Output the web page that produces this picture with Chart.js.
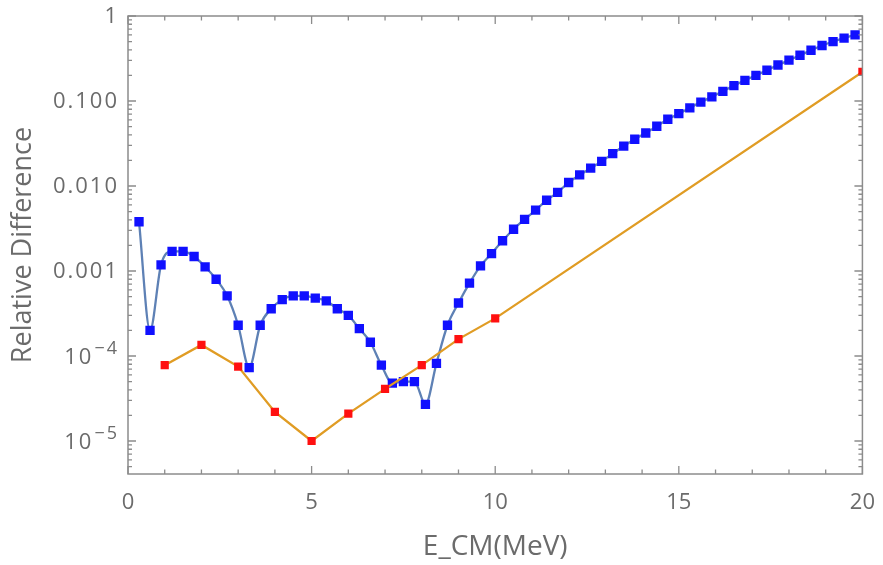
<!DOCTYPE html>
<html>
<head>
<meta charset="utf-8">
<script src="https://cdn.jsdelivr.net/npm/chart.js@4.4.1/dist/chart.umd.min.js"></script>
<style>
	html, body { margin: 0; padding: 0; background: #fff; }
</style>
</head>
<body>
<canvas id="chart" width="883" height="565"></canvas>
<script>
// model curve, sampled every 0.3 MeV
const curveEnergy = [
	0.3, 0.6, 0.9, 1.2, 1.5, 1.8, 2.1, 2.4, 2.7, 3.0,
	3.3, 3.6, 3.9, 4.2, 4.5, 4.8, 5.1, 5.4, 5.7, 6.0,
	6.3, 6.6, 6.9, 7.2, 7.5, 7.8, 8.1, 8.4, 8.7, 9.0,
	9.3, 9.6, 9.9, 10.2, 10.5, 10.8, 11.1, 11.4, 11.7, 12.0,
	12.3, 12.6, 12.9, 13.2, 13.5, 13.8, 14.1, 14.4, 14.7, 15.0,
	15.3, 15.6, 15.9, 16.2, 16.5, 16.8, 17.1, 17.4, 17.7, 18.0,
	18.3, 18.6, 18.9, 19.2, 19.5, 19.8,
];
const curveDiff = [
	3.8e-3, 2.0e-4, 1.18e-3, 1.7e-3, 1.7e-3, 1.48e-3, 1.12e-3, 8.0e-4, 5.1e-4, 2.3e-4,
	7.3e-5, 2.3e-4, 3.6e-4, 4.6e-4, 5.1e-4, 5.1e-4, 4.8e-4, 4.45e-4, 3.6e-4, 3.0e-4,
	2.1e-4, 1.45e-4, 7.8e-5, 4.8e-5, 5.0e-5, 5.0e-5, 2.7e-5, 8.2e-5, 2.3e-4, 4.2e-4,
	7.2e-4, 1.15e-3, 1.6e-3, 2.27e-3, 3.1e-3, 4.05e-3, 5.2e-3, 6.8e-3, 8.4e-3, 1.1e-2,
	1.35e-2, 1.62e-2, 1.95e-2, 2.4e-2, 2.95e-2, 3.55e-2, 4.2e-2, 5.05e-2, 6.1e-2, 7.1e-2,
	8.3e-2, 9.7e-2, 0.112, 0.13, 0.152, 0.175, 0.2, 0.23, 0.265, 0.302,
	0.345, 0.395, 0.45, 0.5, 0.55, 0.6,
];

// reference points, joined by straight segments
const pointEnergy = [1, 2, 3, 4, 5, 6, 7, 8, 9, 10, 20];
const pointDiff = [7.8e-5, 1.35e-4, 7.5e-5, 2.2e-5, 1.0e-5, 2.1e-5, 4.1e-5, 7.8e-5, 1.58e-4, 2.77e-4, 0.22];

// axis ticks
const xTickMarks = [0, 1, 2, 3, 4, 5, 6, 7, 8, 9, 10, 11, 12, 13, 14, 15, 16, 17, 18, 19, 20];
const xMajorTicks = [0, 5, 10, 15, 20];
const yMajorTicks = [1e-5, 1e-4, 1e-3, 1e-2, 1e-1, 1];
const yTickLabels = ['10|−5', '10|−4', '0.001', '0.010', '0.100', '1'];

const fontFamily = '"Open Sans", "Liberation Sans", Arial, sans-serif';
const textColor = '#6b6b6b';
const frameColor = '#8c8c8c';

let toPoints = (xs, ys) => xs.map((x, i) => ({ x, y: ys[i] }));

// frame with inward ticks on all four sides, plus the log axis labels
let frameAndTicks = {
	id: 'frameAndTicks',
	afterDatasetsDraw (chart) {
		let { ctx, chartArea: a, scales: { x, y } } = chart;
		ctx.save();
		ctx.strokeStyle = frameColor;
		ctx.lineWidth = 1.5;
		ctx.strokeRect(a.left, a.top, a.right - a.left, a.bottom - a.top);

		ctx.lineWidth = 1.3;
		ctx.beginPath();
		xTickMarks.forEach(v => {
			let px = x.getPixelForValue(v);
			let len = xMajorTicks.includes(v) ? 8 : 4.5;
			ctx.moveTo(px, a.bottom); ctx.lineTo(px, a.bottom - len);
			ctx.moveTo(px, a.top); ctx.lineTo(px, a.top + len);
		});
		for (let e = -6; e <= 0; e++) {
			for (let k = 1; k <= 9; k++) {
				let v = k * Math.pow(10, e);
				if (v < y.min || v > y.max) { continue; }
				let py = y.getPixelForValue(v);
				let len = k === 1 ? 8 : 4;
				ctx.moveTo(a.left, py); ctx.lineTo(a.left + len, py);
				ctx.moveTo(a.right, py); ctx.lineTo(a.right - len, py);
			}
		}
		ctx.stroke();

		// y tick labels, powers of ten get a raised exponent
		ctx.fillStyle = textColor;
		ctx.textAlign = 'right';
		ctx.textBaseline = 'middle';
		ctx.letterSpacing = '2px';
		let right = a.left - 9;
		yMajorTicks.forEach((v, i) => {
			let py = y.getPixelForValue(v);
			let [base, exp] = yTickLabels[i].split('|');
			if (exp) {
				ctx.font = `18px ${fontFamily}`;
				let expW = ctx.measureText(exp).width;
				ctx.fillText(exp, right, py - 7);
				ctx.font = `22px ${fontFamily}`;
				ctx.fillText(base, right - expW - 1, py + 2);
			} else {
				ctx.font = `22px ${fontFamily}`;
				ctx.fillText(base, right, py + 1);
			}
		});
		ctx.restore();
	},
};

new Chart(document.getElementById('chart'), {
	type: 'scatter',
	data: {
		datasets: [
			{
				data: toPoints(pointEnergy, pointDiff),
				showLine: true,
				borderColor: '#e09c24',
				borderWidth: 2.3,
				pointStyle: 'rect',
				pointRadius: 5.8,
				pointBorderWidth: 0,
				pointBackgroundColor: '#ff1010',
				clip: 0,
			},
			{
				data: toPoints(curveEnergy, curveDiff),
				showLine: true,
				borderColor: '#5e81b5',
				borderWidth: 2.3,
				cubicInterpolationMode: 'monotone',
				pointStyle: 'rect',
				pointRadius: 6.6,
				pointBorderWidth: 0,
				pointBackgroundColor: '#1010ff',
				clip: 0,
			},
		],
	},
	options: {
		responsive: false,
		devicePixelRatio: 1,
		animation: false,
		layout: { padding: { left: 0, right: 15, top: 16, bottom: 0 } },
		plugins: {
			legend: { display: false },
			tooltip: { enabled: false },
		},
		scales: {
			x: {
				type: 'linear',
				min: 0,
				max: 20,
				afterFit: (scale) => { scale.height = 91; },
				grid: { display: false },
				border: { display: false },
				ticks: {
					stepSize: 5,
					padding: 8,
					color: textColor,
					font: { family: fontFamily, size: 22 },
				},
				title: {
					display: true,
					text: 'E_CM(MeV)',
					color: textColor,
					font: { family: fontFamily, size: 28 },
					padding: { top: 0, bottom: 1 },
				},
			},
			y: {
				type: 'logarithmic',
				min: 4.09e-6,
				max: 1,
				afterFit: (scale) => { scale.width = 128; },
				grid: { display: false },
				border: { display: false },
				ticks: { display: false },
				title: {
					display: true,
					text: 'Relative Difference',
					color: textColor,
					font: { family: fontFamily, size: 27 },
					padding: { top: 7, bottom: 0 },
				},
			},
		},
	},
	plugins: [ frameAndTicks ],
});
</script>
</body>
</html>
